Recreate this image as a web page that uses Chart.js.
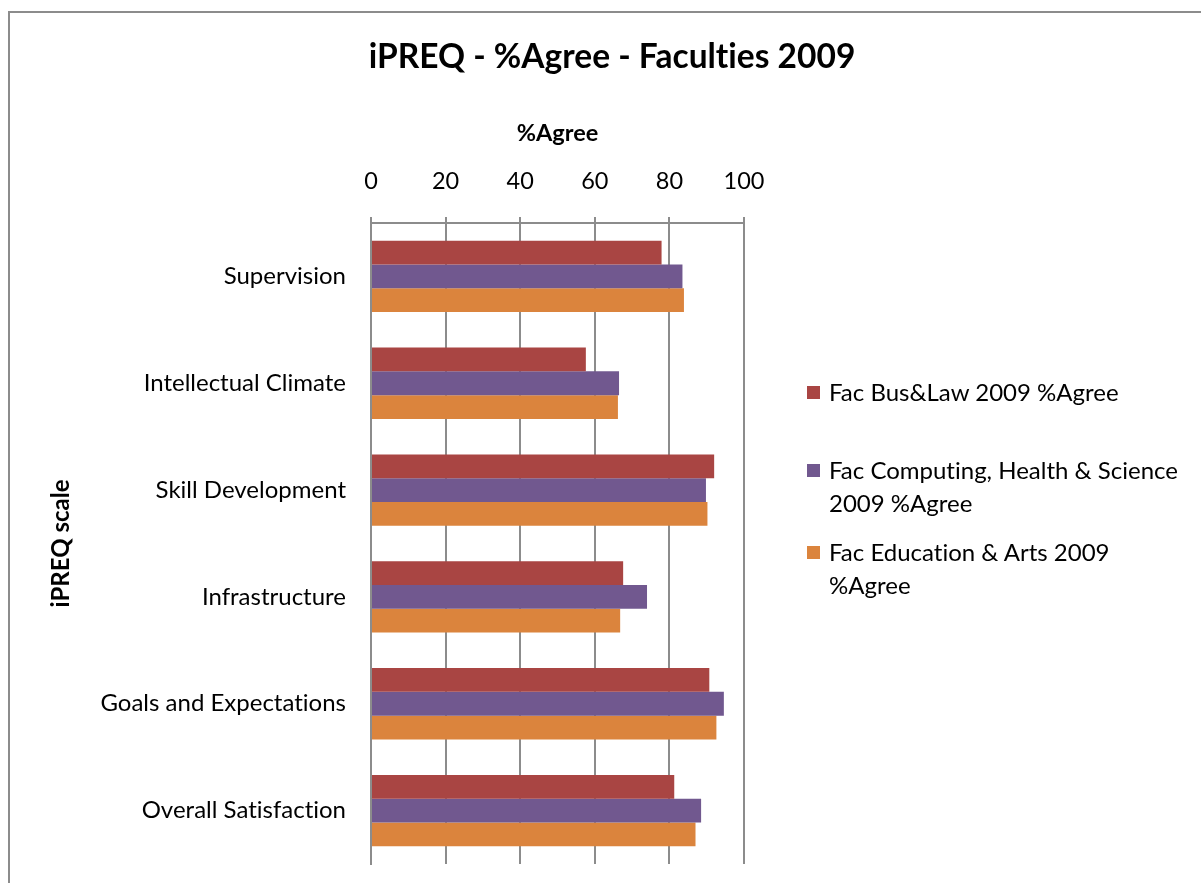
<!DOCTYPE html>
<html>
<head>
<meta charset="utf-8">
<title>iPREQ - %Agree - Faculties 2009</title>
<script src="https://cdn.jsdelivr.net/npm/chart.js@4.4.1/dist/chart.umd.min.js"></script>
<style>
  html, body { margin: 0; padding: 0; background: #fff; overflow: hidden; }
  body { width: 1201px; height: 883px; position: relative; font-family: Lato, sans-serif; }
  .frame {
    position: absolute; left: 8px; top: 11px; width: 1220px; height: 900px;
    border: 2px solid #8c8c8c; box-sizing: border-box;
  }
  .chart-wrap { position: absolute; left: 10px; top: 13px; width: 1204px; height: 870px; }
  #legend { position: absolute; left: 807px; top: 0; list-style: none; margin: 0; padding: 0; }
  #legend li { position: absolute; left: 0; display: flex; align-items: flex-start; width: 390px; }
  #legend .box { width: 13px; height: 13px; margin-top: 11px; margin-right: 9px; flex: none; }
  #legend .txt {
    font-size: 24px; line-height: 33px; color: #000; width: 358px;
    font-variant-ligatures: none;
  }
</style>
</head>
<body>
<div class="frame"></div>
<div class="chart-wrap"><canvas id="preqChart"></canvas></div>
<ul id="legend"></ul>
<script>
(function () {
  var CATEGORIES = [
    'Supervision', 'Intellectual Climate', 'Skill Development',
    'Infrastructure', 'Goals and Expectations', 'Overall Satisfaction'
  ];
  var BUS_LAW = [77.9, 57.6, 92.0, 67.6, 90.7, 81.3];
  var COMP_HEALTH_SCI = [83.5, 66.5, 89.8, 74.0, 94.6, 88.5];
  var EDU_ARTS = [83.9, 66.2, 90.2, 66.8, 92.6, 87.0];
  var X_TICKS = [0, 20, 40, 60, 80, 100];

  var SERIES_NAMES = [
    'Fac Bus&Law 2009 %Agree',
    'Fac Computing, Health & Science 2009 %Agree',
    'Fac Education & Arts 2009 %Agree'
  ];
  var COLORS = ['#A94543', '#71588F', '#DB843D'];
  var LEGEND_TOPS = [375, 453, 535];

  var FONT = 'Lato, "Open Sans", sans-serif';
  var GRID = '#8c8c8c';

  var canvas = document.getElementById('preqChart');

  // legend built from the chart's datasets so it can wrap like the original
  var htmlLegend = {
    id: 'htmlLegend',
    afterUpdate: function (chart) {
      var ul = document.getElementById('legend');
      ul.innerHTML = '';
      chart.data.datasets.forEach(function (ds, i) {
        var li = document.createElement('li');
        li.style.top = LEGEND_TOPS[i] + 'px';
        var box = document.createElement('span');
        box.className = 'box';
        box.style.background = ds.backgroundColor;
        var txt = document.createElement('span');
        txt.className = 'txt';
        txt.textContent = ds.label;
        li.appendChild(box);
        li.appendChild(txt);
        ul.appendChild(li);
      });
    }
  };

  // Lato joins "ti" by default; the original has plain letters
  var noLigatures = {
    id: 'noLigatures',
    beforeInit: function (chart) { chart.ctx.textRendering = 'optimizeSpeed'; },
    beforeDraw: function (chart) { chart.ctx.textRendering = 'optimizeSpeed'; }
  };

  function noEdgePadding(scale) {
    scale.paddingTop = 0;
    scale.paddingBottom = 0;
    scale.paddingLeft = 0;
    scale.paddingRight = 0;
  }

  new Chart(canvas.getContext('2d'), {
    type: 'bar',
    data: {
      labels: CATEGORIES,
      datasets: [BUS_LAW, COMP_HEALTH_SCI, EDU_ARTS].map(function (vals, i) {
        return {
          label: SERIES_NAMES[i],
          data: vals,
          backgroundColor: COLORS[i],
          borderWidth: 0,
          barPercentage: 1.0,
          categoryPercentage: 0.667
        };
      })
    },
    options: {
      indexAxis: 'y',
      responsive: true,
      maintainAspectRatio: false,
      animation: false,
      layout: { padding: { top: 0, left: 0, right: 0, bottom: 19 } },
      plugins: {
        legend: { display: false },
        tooltip: { enabled: false },
        title: {
          display: true,
          text: 'iPREQ - %Agree - Faculties 2009',
          color: '#000',
          font: { family: FONT, size: 33.5, weight: 'bold' },
          padding: { top: 24, bottom: 0 }
        }
      },
      scales: {
        x: {
          position: 'top',
          min: 0,
          max: 100,
          afterBuildTicks: function (scale) {
            scale.ticks = X_TICKS.map(function (v) { return { value: v }; });
          },
          afterFit: function (scale) {
            scale.height = 145.8;
            noEdgePadding(scale);
          },
          grid: { color: GRID, lineWidth: 2, drawTicks: true, tickLength: 6, tickColor: GRID },
          border: { display: true, color: GRID, width: 2 },
          ticks: {
            color: '#000',
            padding: 21,
            font: { family: FONT, size: 23.5 }
          },
          title: {
            display: true,
            text: '%Agree',
            color: '#000',
            font: { family: FONT, size: 23.5, weight: 'bold' },
            padding: { top: 41.7, bottom: 0 }
          }
        },
        y: {
          afterFit: function (scale) {
            scale.width = 361;
            noEdgePadding(scale);
          },
          grid: { display: false, drawTicks: false },
          border: { display: true, color: GRID, width: 2 },
          ticks: {
            color: '#000',
            padding: 25,
            font: { family: FONT, size: 24 }
          },
          title: {
            display: true,
            text: 'iPREQ scale',
            color: '#000',
            font: { family: FONT, size: 24, weight: 'bold' },
            padding: { top: 36.6, bottom: 0 }
          }
        },
        // empty right-hand axis that reserves the room used by the legend
        legendSpace: {
          type: 'category',
          axis: 'y',
          position: 'right',
          afterFit: function (scale) {
            scale.width = 470;
            noEdgePadding(scale);
          },
          grid: { display: false, drawTicks: false },
          border: { display: false },
          ticks: { display: false }
        }
      }
    },
    plugins: [htmlLegend, noLigatures]
  });
})();
</script>
</body>
</html>
